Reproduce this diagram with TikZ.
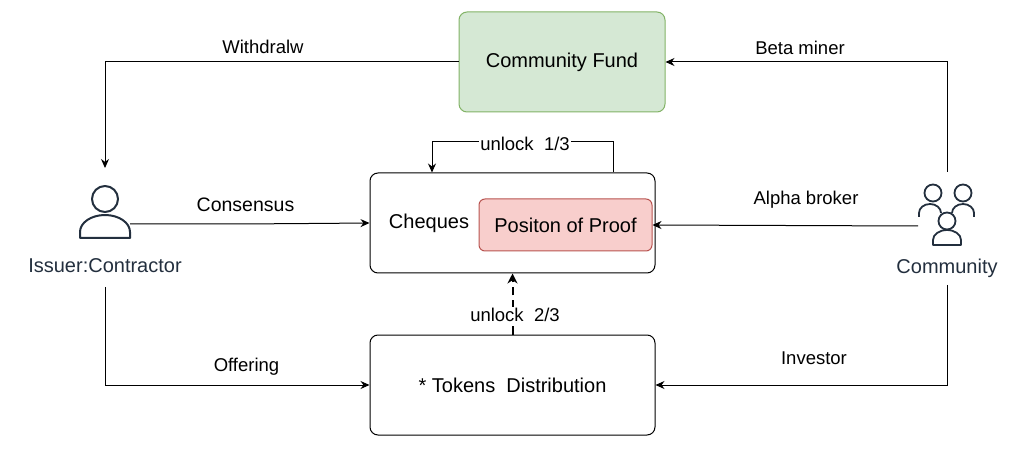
\documentclass[tikz,border=0pt]{standalone}
\usepackage{fontspec}
\setmainfont{Liberation Sans}
\usetikzlibrary{arrows.meta}
\definecolor{icon}{HTML}{232F3E}
\begin{document}
\begin{tikzpicture}[x=1pt,y=-1pt,
  box/.style={draw,rounded corners=8pt,line width=1pt,font=\fontsize{20}{22}\selectfont},
  lab/.style={font=\fontsize{18.5}{20}\selectfont,fill=white,inner sep=1pt},
  con/.style={line width=1pt,-{Stealth[length=9pt,width=8pt]}},
  ico/.style={draw=icon,line width=2pt,line join=round}]
\useasboundingbox (0,0) rectangle (1020,454);
\node[box,fill={rgb,255:red,213;green,232;blue,212},draw={rgb,255:red,130;green,179;blue,102},minimum width=206pt,minimum height=100pt] (fund) at (562,62) {Community Fund};
\node[box,minimum width=285pt,minimum height=100pt] (cheq) at (512.5,223) {};
\node[font=\fontsize{20}{22}\selectfont] (cq) at (429,223) {Cheques};
\node[box,rounded corners=6pt,fill={rgb,255:red,248;green,206;blue,204},draw={rgb,255:red,184;green,84;blue,80},minimum width=173pt,minimum height=52pt] (pp) at (565.5,225) {Positon of Proof};
\node[box,minimum width=285pt,minimum height=100pt] (tok) at (512.5,385) {* Tokens\ \ Distribution};
% issuer icon
\draw[ico] (105,199) circle (13);
\draw[ico] (80,238) -- (80,232) arc (180:360:25 and 17) -- (130,238) -- cycle;
\node[text=icon,font=\fontsize{20}{22}\selectfont] (isl) at (105,266) {Issuer:Contractor};
% community icon
\node[text=icon,font=\fontsize{20}{22}\selectfont] (cml) at (947,268) {Community};
\begin{scope}[ico,line width=1.8pt]
\draw (933,193) circle (8.5);
\draw (963,193) circle (8.5);
\draw (919,217) -- (919,213) arc (180:360:11 and 9);
\draw (952,213) arc (180:360:11 and 9) -- (974,217);
\draw[fill=white] (947,221) circle (8.5);
\draw[fill=white] (933,245) -- (933,240) arc (180:360:14 and 10) -- (961,245) -- cycle;
\end{scope}
\coordinate (comtop) at (947,172);
\coordinate (combot) at (947,285);
\coordinate (isstop) at (105,168);
\coordinate (issbot) at (105,287);
% connectors
\draw[con] (fund.west) -| (isstop);
\node[lab] at (263,47) {Withdralw};
\draw[con] (comtop) |- (fund.east);
\node[lab] at (800,48) {Beta miner};
\draw[con] (130,224) .. controls (250,224) .. (cheq.west);
\node[lab,font=\fontsize{19.5}{21}\selectfont] at (245.5,205) {Consensus};
\draw[con] (918,226) -- (pp.east);
\node[lab] at (806,200) {Alpha broker};
\draw[con] (combot) |- (tok.east);
\node[lab] at (814,358) {Investor};
\draw[con] (issbot) |- (tok.west);
\node[lab] at (246.5,367) {Offering};
\draw[con] (cheq.north -| 613,0) -- (613,142) -| (cheq.north -| 432,0);
\node[lab] at (525,144) {unlock\ \ 1/3};
\draw[line width=2pt,dash pattern=on 8pt off 5pt,-{Stealth[length=10pt,width=10pt]}] (tok.north) -- (cheq.south);
\node[lab] at (515,315) {unlock\ \ 2/3};
\end{tikzpicture}
\end{document}
